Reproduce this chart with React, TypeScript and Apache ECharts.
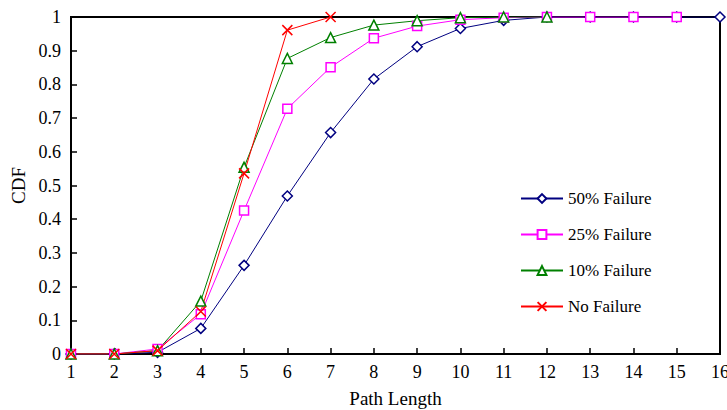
import React, { useEffect, useRef } from "react";
import * as echarts from "echarts";

const pathLengths = [1, 2, 3, 4, 5, 6, 7, 8, 9, 10, 11, 12, 13, 14, 15, 16];
const fail50 = [0, 0, 0.005, 0.076, 0.263, 0.469, 0.657, 0.816, 0.912, 0.966, 0.99, 1, 1, 1, 1, 1];
const fail25 = [0, 0, 0.015, 0.118, 0.426, 0.728, 0.851, 0.937, 0.973, 0.992, 0.998, 1, 1, 1, 1];
const fail10 = [0, 0, 0.01, 0.157, 0.554, 0.877, 0.939, 0.976, 0.989, 0.998, 1, 1];
const noFail = [0, 0, 0.01, 0.126, 0.536, 0.961, 1];
const seriesNames = ["50% Failure", "25% Failure", "10% Failure", "No Failure"];

const FONT = "Liberation Serif";

function pairs(vals: number[]) {
  return vals.map((v, i) => [pathLengths[i], v]);
}

export default function App() {
  const ref = useRef<HTMLDivElement>(null);
  useEffect(() => {
    document.body.style.margin = "0";
    if (!ref.current) return;
    const chart = echarts.init(ref.current, undefined, { renderer: "svg" });
    const mk = (name: string, vals: number[], color: string, symbol: string, size: number) => ({
      name,
      type: "line",
      data: pairs(vals),
      symbol,
      symbolSize: size,
      showSymbol: true,
      lineStyle: { color, width: 1 },
      itemStyle: { color: "#fff", borderColor: color, borderWidth: 1.5 },
      emphasis: { disabled: true },
    });
    chart.setOption({
      animation: false,
      textStyle: { fontFamily: FONT },
      grid: {
        left: 71,
        right: 7,
        top: 17,
        bottom: 56,
        outerBoundsMode: "none",
        containLabel: false,
        show: true,
        borderColor: "#000",
        borderWidth: 2,
      },
      legend: {
        orient: "vertical",
        left: 515,
        top: 185,
        itemWidth: 42,
        itemHeight: 11,
        itemGap: 19,
        data: seriesNames,
        formatter: "{t|{name}}",
        textStyle: {
          fontFamily: FONT,
          fontSize: 17,
          color: "#000",
          rich: { t: { fontFamily: FONT, fontSize: 17, color: "#000" } },
        },
      },
      xAxis: {
        type: "value",
        min: 1,
        max: 16,
        interval: 1,
        name: "Path Length",
        nameLocation: "middle",
        nameGap: 35,
        nameTextStyle: { fontFamily: FONT, fontSize: 19, color: "#000" },
        axisLine: { show: true, lineStyle: { color: "#000", width: 2 } },
        axisTick: { show: true, inside: true, length: 6, lineStyle: { color: "#000", width: 1.5 } },
        axisLabel: { fontFamily: FONT, fontSize: 18, color: "#000", margin: 9 },
        splitLine: { show: false },
      },
      yAxis: {
        type: "value",
        min: 0,
        max: 1,
        interval: 0.1,
        name: "CDF",
        nameLocation: "middle",
        nameRotate: 90,
        nameGap: 42,
        nameTextStyle: { fontFamily: FONT, fontSize: 19, color: "#000" },
        axisLine: { show: true, lineStyle: { color: "#000", width: 2 } },
        axisTick: { show: true, inside: true, length: 6, lineStyle: { color: "#000", width: 1.5 } },
        axisLabel: { fontFamily: FONT, fontSize: 18, color: "#000", margin: 10 },
        splitLine: { show: false },
      },
      series: [
        mk(seriesNames[0], fail50, "#000080", "diamond", 10),
        mk(seriesNames[1], fail25, "#FF00FF", "rect", 9),
        mk(seriesNames[2], fail10, "#008000", "triangle", 10),
        {
          ...mk(seriesNames[3], noFail, "#FF0000", "path://M0,0L10,10M10,0L0,10", 10),
          itemStyle: { color: "none", borderColor: "#FF0000", borderWidth: 1.5 },
        },
      ],
    });
    return () => chart.dispose();
  }, []);
  return <div ref={ref} style={{ width: 727, height: 410 }} />;
}
